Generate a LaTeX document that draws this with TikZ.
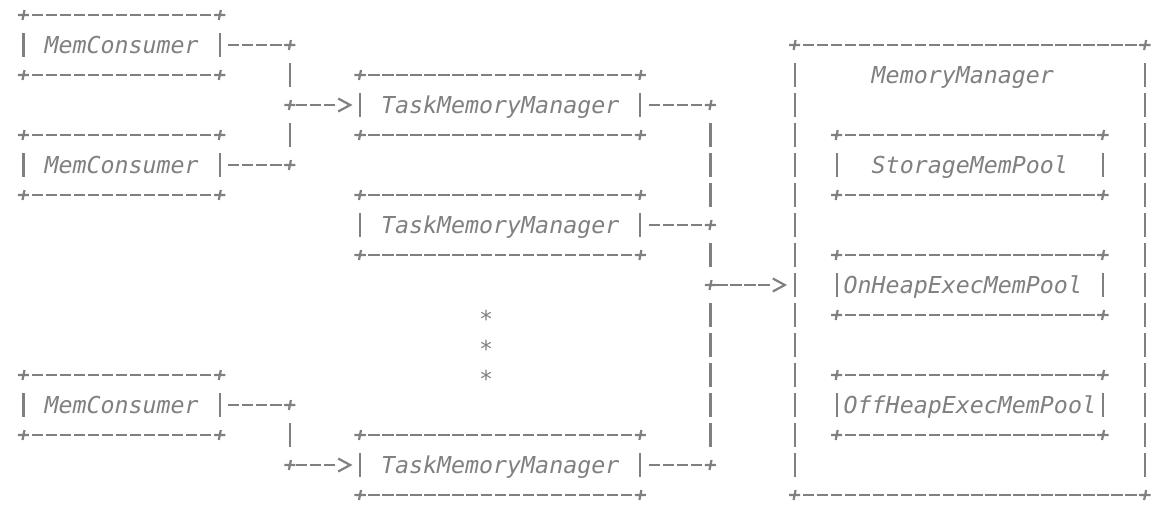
\documentclass[tikz,border=0pt]{standalone}
\usepackage{fontspec}
\setmonofont{DejaVu Sans Mono}[ItalicFont={DejaVu Sans Mono Oblique}]
\usetikzlibrary{arrows.meta}
\definecolor{ascii}{HTML}{808080}

\begin{document}
\begin{tikzpicture}[x=14.02pt, y=-30pt]
	\tikzstyle{txt}=[text=ascii, font=\ttfamily\itshape\fontsize{23.29pt}{30pt}\selectfont, inner sep=0pt, outer sep=0pt, text height=18pt, text depth=1pt]
	\tikzstyle{boxnode}=[txt, rectangle]
	\tikzstyle{consumer}=[boxnode, minimum width=14*14.02pt, minimum height=60pt]
	\tikzstyle{task}=[boxnode, minimum width=20*14.02pt, minimum height=60pt]
	\tikzstyle{pool}=[boxnode, minimum width=19*14.02pt, minimum height=60pt]
	\tikzstyle{hdash}=[draw=ascii, line width=2.2pt, dash pattern=on 11.3pt off 2.72pt, dash phase=5.65pt]
	\tikzstyle{vdash}=[draw=ascii, line width=2.2pt, dash pattern=on 24pt off 6pt, shorten <=18pt, shorten >=18pt]
	\tikzstyle{plusmark}=[draw=ascii, line width=2.2pt]
	\tikzstyle{arrowline}=[draw=ascii, line width=2.2pt, {Straight Barb[length=12pt,width=13pt]}-, shorten <=7.5pt,
		dash pattern=on 0pt off 14pt on 11.3pt off 2.72pt on 11.3pt off 2.72pt on 11.3pt off 2.72pt on 11.3pt off 2.72pt on 11.3pt off 2.72pt]

	\useasboundingbox (-1.676,-0.5) rectangle (81.49,16.367);

	\node[consumer] (mc1) at (7,1) {MemConsumer};
	\node[consumer] (mc2) at (7,5) {MemConsumer};
	\node[consumer] (mc3) at (7,13) {MemConsumer};
	\node[task] (tmm1) at (34,3) {TaskMemoryManager};
	\node[task] (tmm2) at (34,7) {TaskMemoryManager};
	\node[task] (tmm3) at (34,15) {TaskMemoryManager};
	\node[boxnode, minimum width=25*14.02pt, minimum height=450pt] (mm) at (67.5,8.5) {};
	\node[txt] (mmtitle) at (67,2) {MemoryManager};
	\node[pool] (smp) at (67.5,5) {StorageMemPool};
	\node[pool] (onp) at (67.5,9) {OnHeapExecMemPool\hspace*{14.02pt}};
	\node[pool] (offp) at (67.5,13) {OffHeapExecMemPool};
	\foreach \r in {10,11,12}
		\node[txt, yshift=-4.3pt] (star\r) at (33,\r) {*};

	\coordinate (a1) at (19,1);
	\coordinate (a2) at (19,3);
	\coordinate (a3) at (19,5);
	\coordinate (a4) at (19,13);
	\coordinate (a5) at (19,15);
	\coordinate (b1) at (49,3);
	\coordinate (b2) at (49,7);
	\coordinate (b3) at (49,9);
	\coordinate (b4) at (49,15);

	% ascii frames
	\foreach \b in {mc1,mc2,mc3,tmm1,tmm2,tmm3,mm,smp,onp,offp} {
		\draw[hdash] (\b.north west) -- (\b.north east);
		\draw[hdash] (\b.south west) -- (\b.south east);
		\draw[vdash] (\b.north west) -- (\b.south west);
		\draw[vdash] (\b.north east) -- (\b.south east);
		\foreach \c in {north west,north east,south west,south east}
			\draw[plusmark] (\b.\c) +(-5.5pt,0) -- +(5.5pt,0) +(-1pt,-5pt) -- +(1pt,5pt);
	}

	% connectors
	\foreach \from/\to in {mc1/a1,mc2/a3,mc3/a4,tmm1/b1,tmm2/b2,tmm3/b4}
		\draw[hdash, shorten <=8.37pt, dash phase=0pt] (\from.east) -- (\to);
	\foreach \from/\to in {a1/a2,a3/a2,a4/a5,b1/b2,b2/b3,b3/b4}
		\draw[vdash] (\from) -- (\to);
	\foreach \to/\from in {tmm1/a2,tmm3/a5}
		\draw[arrowline] (\to.west) -- (\from);
	\draw[arrowline] (mm.west |- b3) -- (b3);
	\foreach \j in {a1,a2,a3,a4,a5,b1,b2,b3,b4}
		\draw[plusmark] (\j) +(-5.5pt,0) -- +(5.5pt,0) +(-1pt,-5pt) -- +(1pt,5pt);
\end{tikzpicture}
\end{document}
